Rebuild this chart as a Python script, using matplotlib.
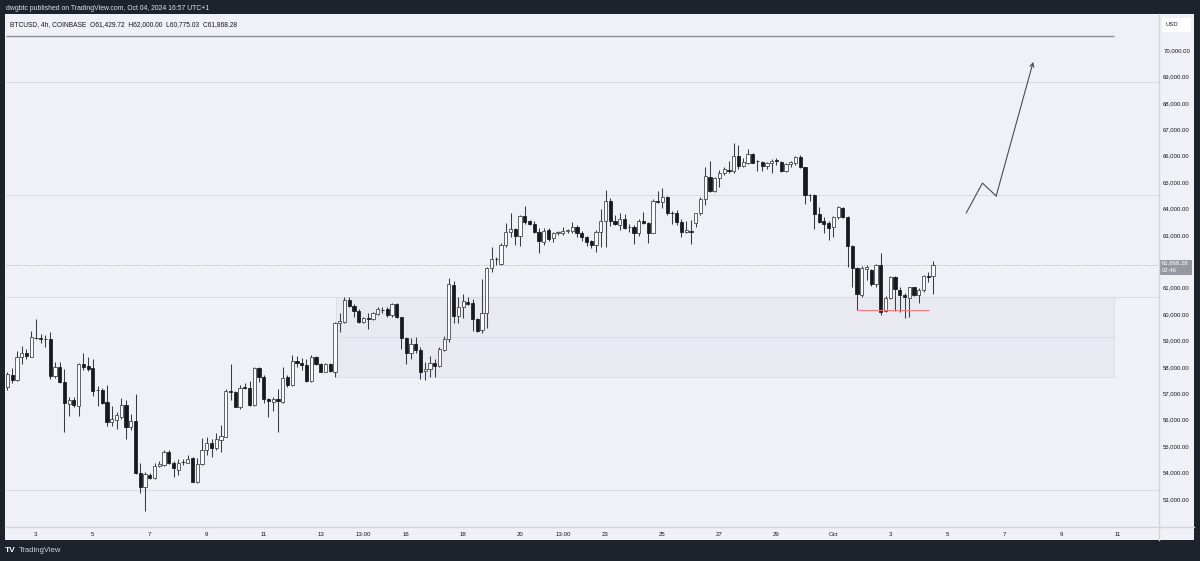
import matplotlib

matplotlib.use("Agg")
import matplotlib.pyplot as plt
import matplotlib.transforms as mtransforms
from matplotlib.lines import Line2D
from matplotlib.patches import Rectangle
import numpy as np

plt.rcParams["font.family"] = ["Liberation Sans", "DejaVu Sans"]

# BTCUSD 4h candles, first bar is index -6 (Sep 2), index 0 = Sep 3
first_bar = -6
opens = [
    57250, 57680, 57500, 58380, 58510, 58380,
    59100, 59080, 59060, 59040, 57650, 58000,
    57440, 56590, 56740, 56510, 58100, 58030,
    57940, 57120, 57120, 56670, 55920, 55980,
    56110, 56550, 55710, 55960, 53960, 53460,
    53900, 53770, 54240, 54280, 54780, 54370,
    54110, 54390, 54370, 54540, 53620, 54320,
    54850, 55120, 54910, 55230, 55350, 57070,
    57040, 56490, 57210, 57180, 56540, 57940,
    57630, 56790, 56670, 56780, 56680, 57600,
    57310, 58220, 58130, 58070, 57480, 58360,
    58110, 57820, 58100, 57820, 59650, 59710,
    60530, 60320, 60130, 59680, 59860, 59810,
    59990, 60160, 60180, 59960, 60370, 59870,
    59080, 58540, 58860, 58640, 57840, 57920,
    58160, 58030, 58640, 59050, 61100, 59940,
    60280, 60470, 60400, 59810, 59390, 60020,
    61730, 62100, 61900, 62610, 63120, 63210,
    62950, 63720, 63520, 63410, 63120, 62740,
    63180, 62870, 63070, 63080, 63150, 63160,
    63310, 63080, 62900, 62780, 62610, 63120,
    63540, 64290, 63540, 63370, 63590, 63290,
    63310, 63080, 63540, 63460, 63080, 64270,
    64250, 64450, 63840, 63810, 63500, 63100,
    63150, 63460, 63810, 64340, 65200, 64670,
    65140, 65330, 65430, 65430, 65990, 65610,
    65730, 66060, 65800, 65770, 65610, 65710,
    65810, 65770, 65430, 65680, 65710, 65940,
    65560, 64510, 64510, 63790, 63540, 63430,
    63280, 63660, 64000, 63690, 62580, 61730,
    60720, 61700, 61670, 61140, 61860, 60130,
    60590, 61410, 60910, 60720, 60590, 61010,
    60720, 60910, 61440, 61429.72,
]
highs = [
    57820, 57940, 58610, 58790, 58660, 59370,
    59800, 59240, 59200, 59320, 58190, 58190,
    57900, 56870, 56870, 58160, 58510, 58360,
    58310, 57270, 57180, 57300, 56510, 56300,
    56820, 56740, 56210, 56960, 54370, 54030,
    53960, 54370, 54440, 54850, 54850, 54420,
    54490, 54490, 54670, 54590, 54540, 55300,
    55350, 55250, 55500, 55780, 57150, 58100,
    57100, 57300, 57400, 57450, 58000, 58000,
    57680, 56820, 56870, 57170, 57980, 57680,
    58450, 58410, 58320, 58300, 58450, 58410,
    58160, 58130, 58160, 59710, 60030, 60660,
    60630, 60370, 60180, 59900, 60030, 60090,
    60280, 60280, 60250, 60400, 60420, 59900,
    59140, 59080, 59120, 58760, 58170, 58410,
    58280, 58760, 59170, 61350, 61250, 60630,
    60750, 60630, 60560, 59860, 61320, 61790,
    62550, 62150, 62700, 63460, 63840, 63250,
    63750, 64090, 63560, 63540, 63250, 63250,
    63250, 63120, 63160, 63280, 63210, 63500,
    63370, 63160, 62950, 62800, 63180, 63970,
    64700, 64380, 63750, 63810, 63790, 63410,
    63370, 63590, 63880, 63500, 64340, 64670,
    64760, 64470, 63910, 63940, 63590, 63530,
    63550, 63840, 64450, 65560, 65810, 65200,
    65460, 65560, 65810, 66490, 66400, 65900,
    66240, 66090, 65830, 65810, 65770, 65860,
    65900, 65800, 65730, 65810, 65990, 66020,
    65580, 64550, 64550, 64040, 63660, 63540,
    63710, 64090, 64070, 63710, 62610, 61770,
    61820, 61860, 61690, 61890, 62320, 60680,
    61440, 61440, 61030, 60780, 61030, 61030,
    60970, 61480, 61600, 62000.00,
]
lows = [
    57120, 57370, 57480, 58100, 58280, 58360,
    59040, 58890, 58760, 57520, 57560, 57400,
    55540, 56140, 56490, 56140, 57880, 57830,
    56890, 56510, 56590, 55760, 55760, 55630,
    56010, 55280, 55600, 53940, 53230, 52520,
    53740, 53740, 54190, 54240, 54320, 53810,
    53900, 54270, 54340, 53620, 53610, 54270,
    54660, 54590, 54850, 54780, 55330, 56740,
    56460, 56390, 57150, 56510, 56510, 57440,
    56620, 56080, 56320, 55530, 56640, 57250,
    57270, 58000, 57880, 57440, 57440, 58080,
    57790, 57790, 57820, 57630, 59330, 59650,
    60280, 59900, 59650, 59650, 59420, 59770,
    59950, 60030, 59900, 59900, 59840, 58670,
    58110, 58280, 58510, 57520, 57500, 57600,
    57600, 58000, 58610, 58950, 59650, 59650,
    59840, 60340, 59360, 59330, 59270, 59460,
    61600, 61860, 61860, 62550, 62930, 62610,
    62580, 63410, 63370, 63080, 62320, 62610,
    62780, 62740, 62990, 62990, 63080, 63060,
    62930, 62780, 62580, 62490, 62360, 62530,
    62550, 63330, 63370, 63180, 63210, 63120,
    62650, 62950, 63410, 62700, 63060, 64190,
    64000, 63750, 63410, 63370, 62930, 63050,
    62650, 63310, 63750, 64130, 64630, 64630,
    64820, 65270, 65350, 65330, 65480, 65560,
    65680, 65710, 65430, 65430, 65480, 65350,
    65640, 65390, 65390, 65580, 65640, 65520,
    64170, 64290, 63210, 63460, 63060, 62800,
    62930, 63590, 63630, 61770, 61030, 60150,
    60660, 61290, 61060, 61030, 59960, 60090,
    60550, 60130, 60090, 59840, 59870, 60680,
    60430, 60850, 61220, 60775.03,
]
closes = [
    57730, 57500, 58380, 58510, 58410, 59120,
    59080, 59070, 59040, 57650, 58000, 57440,
    56620, 56740, 56540, 58100, 58000, 57900,
    57100, 57110, 56640, 55920, 56030, 56170,
    56550, 55730, 55960, 53960, 53460, 53940,
    53770, 54240, 54320, 54770, 54340, 54150,
    54370, 54380, 54520, 53650, 54320, 54850,
    55100, 54910, 55250, 55380, 57100, 57060,
    56490, 57200, 57200, 56540, 57940, 57600,
    56790, 56690, 56780, 56690, 57590, 57320,
    58220, 58130, 58070, 57480, 58380, 58110,
    57820, 58100, 57850, 59670, 59750, 60530,
    60320, 60130, 59680, 59860, 59810, 60030,
    60180, 60150, 59960, 60370, 59870, 59080,
    58540, 58860, 58640, 57820, 57920, 58160,
    58030, 58670, 59050, 61140, 59940, 60280,
    60490, 60380, 59810, 59370, 60020, 61730,
    62100, 62070, 62610, 63120, 63210, 62950,
    63720, 63500, 63410, 63120, 62780, 63160,
    62830, 63080, 63090, 63160, 63160, 63310,
    63080, 62900, 62740, 62610, 63120, 63540,
    64290, 63540, 63410, 63590, 63250, 63310,
    63080, 63540, 63460, 63080, 64290, 64250,
    64450, 63840, 63820, 63500, 63120, 63170,
    63110, 63810, 64340, 65230, 64670, 65160,
    65350, 65480, 65420, 65990, 65610, 65770,
    66060, 65730, 65790, 65610, 65730, 65810,
    65800, 65430, 65680, 65770, 65940, 65560,
    64510, 64500, 63790, 63500, 63410, 63250,
    63660, 64040, 63660, 62580, 61730, 60760,
    61730, 61770, 61140, 61860, 60090, 60590,
    61410, 60930, 60720, 60630, 61010, 60720,
    60910, 61440, 61420, 61868.28,
]

tick_pos = [0, 12, 24, 36, 48, 60, 69, 78, 90, 102, 111,
            120, 132, 144, 156, 168, 180, 192, 204, 216, 228]
tick_labels = ["3", "5", "7", "9", "11", "13", "13:00", "16", "18", "20", "13:00",
               "23", "25", "27", "29", "Oct", "3", "5", "7", "9", "11"]
price_ticks = list(range(53000, 71000, 1000))

# drawings on the chart
level_lines = [68790, 64510, 60640, 53330]
top_line = 70530
zone_top, zone_mid, zone_bottom = 60640, 59130, 57610
zone_start, zone_end = 63.2, 227.2
support_level, support_start, support_end = 60150, 173, 188.2
path_x = [196.0, 199.4, 202.3, 210.1]
path_y = [63830, 64960, 64470, 69550]
last_close = 61868.28
last_time = "02:46"

BG = "#f0f1f6"
FRAME = "#1e222d"
TEXT = "#131722"
W, H = 1200, 561

fig = plt.figure(figsize=(12, 5.61), dpi=100)
fig.patch.set_facecolor(FRAME)
fig.add_artist(Rectangle((5 / W, 1 - 540 / H), 1189 / W, 526 / H, transform=fig.transFigure,
                         facecolor=BG, edgecolor="none", zorder=0))

ax = fig.add_axes([6 / W, 1 - 527 / H, 1153 / W, 513 / H])
ax.set_facecolor(BG)
ax.set_xlim(-6.3, 236.6)
ax.set_ylim(51932, 71364)

# zone and levels
ax.add_patch(Rectangle((zone_start, zone_bottom), zone_end - zone_start, zone_top - zone_bottom,
                       facecolor="#e8e9f1", edgecolor="#dcdde6", linewidth=0.6, zorder=1))
ax.hlines(zone_mid, zone_start, zone_end, color="#dcdde6", linewidth=0.6, zorder=1)
for lvl in level_lines:
    ax.axhline(lvl, color="#dadbe3", linewidth=0.7, zorder=1)
ax.hlines(top_line, -6.3, zone_end, color="#8c8f99", linewidth=1.0, zorder=2)
ax.axhline(last_close, color="#9598a1", linewidth=0.6, linestyle=(0, (1, 2)), zorder=1)

# candles
o = np.array(opens)
h = np.array(highs)
l = np.array(lows)
c = np.array(closes)
x = np.arange(first_bar, first_bar + len(o))
up = c >= o
ax.vlines(x, l, h, color="#3a3c44", linewidth=0.75, zorder=3)
body_bottom = np.minimum(o, c)
body_height = np.maximum(np.abs(c - o), 18)
ax.bar(x[up], body_height[up], bottom=body_bottom[up], width=0.68,
       color="#fbfbfd", edgecolor="#3a3c44", linewidth=0.55, zorder=4)
ax.bar(x[~up], body_height[~up], bottom=body_bottom[~up], width=0.68,
       color="#18191d", edgecolor="#18191d", linewidth=0.55, zorder=4)

ax.hlines(support_level, support_start, support_end, color="#f07a80", linewidth=0.8, zorder=5)

# projected path
ax.plot(path_x[:3], path_y[:3], color="#4a4c55", linewidth=0.8, zorder=5)
ax.annotate("", xy=(path_x[3], path_y[3]), xytext=(path_x[2], path_y[2]),
            arrowprops=dict(arrowstyle="->", color="#4a4c55", lw=0.8,
                            mutation_scale=7, shrinkA=0, shrinkB=0), zorder=5)

# axes
for spine in ax.spines.values():
    spine.set_visible(False)
ax.yaxis.tick_right()
ax.set_yticks(price_ticks)
ax.set_yticklabels([f"{v:,.2f}" for v in price_ticks])
ax.set_xticks(tick_pos)
ax.set_xticklabels(tick_labels)
ax.tick_params(axis="y", length=0, pad=3, labelsize=4.3, labelcolor=TEXT)
ax.tick_params(axis="x", length=0, pad=3.5, labelsize=4.4, labelcolor=TEXT)

fig.add_artist(Line2D([1159 / W, 1159 / W], [1 - 540 / H, 1 - 14 / H], color="#d1d4dc",
                      linewidth=1.0, transform=fig.transFigure))
fig.add_artist(Line2D([5 / W, 1194 / W], [1 - 527 / H, 1 - 527 / H], color="#d1d4dc",
                      linewidth=1.0, transform=fig.transFigure))

# last price label
blend = mtransforms.blended_transform_factory(ax.transAxes, ax.transData)
ax.add_patch(Rectangle((1.0, 61480), 33 / 1153, 570, transform=blend, facecolor="#9598a1",
                       edgecolor="none", clip_on=False, zorder=10))
ax.text(1.0 + 3 / 1153, 61940, f"{last_close:,.2f}", transform=blend, fontsize=4.3,
        color="white", va="center", ha="left", zorder=11, clip_on=False)
ax.text(1.0 + 3 / 1153, 61650, last_time, transform=blend, fontsize=4.3,
        color="white", va="center", ha="left", zorder=11, clip_on=False)

# currency box
fig.add_artist(Rectangle((1162 / W, 1 - 32 / H), 29 / W, 14 / H, transform=fig.transFigure,
                         facecolor="white", edgecolor="none"))
fig.text(1166 / W, 1 - 25 / H, "USD", fontsize=4.2, color=TEXT, va="center", ha="left")

# header and legend
fig.text(6 / W, 1 - 8 / H, "dwgbtc published on TradingView.com, Oct 04, 2024 16:57 UTC+1",
         fontsize=4.95, color="#e0e3eb", va="center", ha="left")
fig.text(10 / W, 1 - 24.5 / H,
         "BTCUSD, 4h, COINBASE  O61,429.72  H62,000.00  L60,775.03  C61,868.28",
         fontsize=4.8, color=TEXT, va="center", ha="left")
fig.text(5 / W, 1 - 551 / H, "TV", fontsize=6, fontweight="bold", color="white",
         va="center", ha="left")
fig.text(19 / W, 1 - 551 / H, "TradingView", fontsize=5.5, color="#d1d4dc",
         va="center", ha="left")

fig.savefig("out.png", dpi=100, facecolor=fig.get_facecolor())
plt.close(fig)
